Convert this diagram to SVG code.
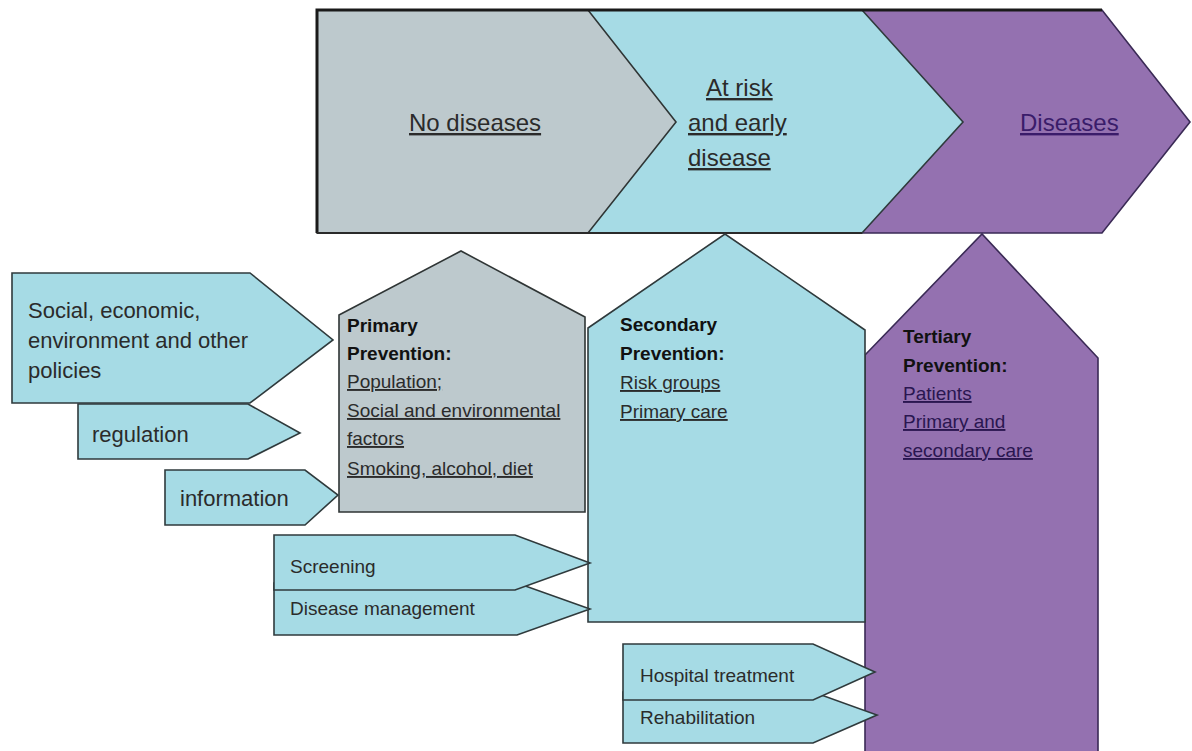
<svg xmlns="http://www.w3.org/2000/svg" width="1192" height="751" viewBox="0 0 1192 751">
  <style>
    text { font-family: "Liberation Sans", Arial, sans-serif; fill: #2b2b2b; }
    .stage { font-size: 24px; text-decoration: underline; }
    .grey { fill: #bdc9cd; stroke: #2f3535; stroke-width: 1.6; }
    .cyan { fill: #a6dbe5; stroke: #2f3a3c; stroke-width: 1.6; }
    .purple { fill: #9471b0; stroke: #3a2a55; stroke-width: 1.6; }
    .head { font-size: 19px; font-weight: bold; fill: #111; }
    .item { font-size: 19px; text-decoration: underline; }
    .pitem { font-size: 19px; text-decoration: underline; fill: #2a1650; }
    .lbl { font-size: 22px; }
    .lbl19 { font-size: 19px; }
  </style>

  <!-- Stage band -->
  <g id="stage-diseases">
    <polygon class="purple" points="600,10 1102,10 1190,122 1102,233 600,233"/>
    <text class="stage" x="1020" y="131" style="fill:#3a1c6a">Diseases</text>
  </g>
  <g id="stage-at-risk">
    <polygon class="cyan" points="400,10 862,10 963,122 862,233 400,233"/>
    <text class="stage" x="706" y="96">At risk</text>
    <text class="stage" x="688" y="131">and early</text>
    <text class="stage" x="688" y="166">disease</text>
  </g>
  <g id="stage-no-diseases">
    <polygon class="grey" points="317,10 588,10 676,122 588,233 317,233"/>
    <text class="stage" x="409" y="131">No diseases</text>
  </g>
  <!-- heavier frame along the band -->
  <path d="M317,233 L317,10 L1102,10" fill="none" stroke="#1a1a1a" stroke-width="3"/>
  <path d="M317,233 L862,233" fill="none" stroke="#2a2a2a" stroke-width="2"/>

  <!-- Prevention houses -->
  <g id="tertiary">
    <polygon class="purple" points="865,355 982,234 1098,358 1098,760 865,760"/>
    <text class="head" x="903" y="343">Tertiary</text>
    <text class="head" x="903" y="372">Prevention:</text>
    <text class="pitem" x="903" y="400">Patients</text>
    <text class="pitem" x="903" y="428">Primary and</text>
    <text class="pitem" x="903" y="457">secondary care</text>
  </g>
  <g id="secondary">
    <polygon class="cyan" points="588,328 725,234 865,330 865,622 588,622"/>
    <text class="head" x="620" y="331">Secondary</text>
    <text class="head" x="620" y="360">Prevention:</text>
    <text class="item" x="620" y="389">Risk groups</text>
    <text class="item" x="620" y="418">Primary care</text>
  </g>
  <g id="primary">
    <polygon class="grey" points="339,315 461,251 585,317 585,512 339,512"/>
    <text class="head" x="347" y="332">Primary</text>
    <text class="head" x="347" y="360">Prevention:</text>
    <text class="item" x="347" y="388">Population;</text>
    <text class="item" x="347" y="417">Social and environmental</text>
    <text class="item" x="347" y="445">factors</text>
    <text class="item" x="347" y="475">Smoking, alcohol, diet</text>
  </g>

  <!-- Input arrows -->
  <g id="connectors">
    <g id="policies">
      <polygon class="cyan" points="12,273 250,273 333,340 250,403 12,403"/>
      <text class="lbl" x="28" y="318">Social, economic,</text>
      <text class="lbl" x="28" y="348">environment and other</text>
      <text class="lbl" x="28" y="378">policies</text>
    </g>
    <g id="regulation">
      <polygon class="cyan" points="78,404 248,404 300,433 248,459 78,459"/>
      <text class="lbl" x="92" y="442">regulation</text>
    </g>
    <g id="information">
      <polygon class="cyan" points="165,470 305,470 338,495 305,525 165,525"/>
      <text class="lbl" x="180" y="506">information</text>
    </g>
    <g id="disease-management">
      <polygon class="cyan" points="274,583 517,583 590,609 517,635 274,635"/>
      <text class="lbl19" x="290" y="615">Disease management</text>
    </g>
    <g id="screening">
      <polygon class="cyan" points="274,535 515,535 590,563 515,590 274,590"/>
      <text class="lbl19" x="290" y="573">Screening</text>
    </g>
    <g id="rehabilitation">
      <polygon class="cyan" points="623,692 813,692 877,715 813,743 623,743"/>
      <text class="lbl19" x="640" y="724">Rehabilitation</text>
    </g>
    <g id="hospital-treatment">
      <polygon class="cyan" points="623,644 813,644 875,672 813,700 623,700"/>
      <text class="lbl19" x="640" y="682">Hospital treatment</text>
    </g>
  </g>
</svg>
